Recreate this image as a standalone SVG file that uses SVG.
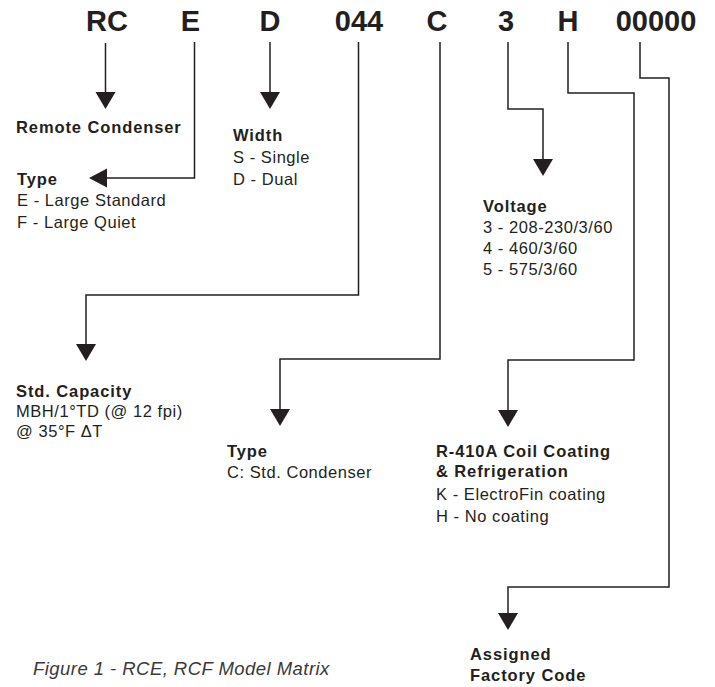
<svg xmlns="http://www.w3.org/2000/svg" width="715" height="687" viewBox="0 0 715 687">
<style>
.code{font-family:"Liberation Sans",Arial,sans-serif;font-weight:bold;font-size:29px;fill:#231f20;text-anchor:middle}
.h{font-family:"Liberation Sans",Arial,sans-serif;font-weight:bold;font-size:16.5px;fill:#231f20;letter-spacing:0.9px}
.t{font-family:"Liberation Sans",Arial,sans-serif;font-size:16.5px;fill:#231f20;letter-spacing:0.55px}
.cap{font-family:"Liberation Sans",Arial,sans-serif;font-style:italic;font-size:18.5px;fill:#3a3a3a;letter-spacing:0.45px}
.ln{fill:none;stroke:#231f20;stroke-width:1.5}
.ah{fill:#231f20}
</style>
<defs>
<polygon id="ad" points="-10,0 10,0 0,17"/>
</defs>
<g id="codes">
<text class="code" x="107" y="31">RC</text>
<text class="code" x="190.5" y="31">E</text>
<text class="code" x="270" y="31">D</text>
<text class="code" x="359" y="31">044</text>
<text class="code" x="437" y="31">C</text>
<text class="code" x="506" y="31">3</text>
<text class="code" x="568" y="31">H</text>
<text class="code" x="656" y="31">00000</text>
</g>
<g id="connectors">
<path class="ln" d="M105.5,43 V94"/>
<use href="#ad" class="ah" x="105.5" y="92"/>
<path class="ln" d="M194.5,42 V178 H104"/>
<polygon class="ah" points="89,178 107,168.5 107,187.5"/>
<path class="ln" d="M270,42 V94"/>
<use href="#ad" class="ah" x="270" y="92"/>
<path class="ln" d="M358.5,42 V295 H86 V346"/>
<use href="#ad" class="ah" x="86" y="344"/>
<path class="ln" d="M440,42 V359 H280 V411"/>
<use href="#ad" class="ah" x="280" y="409"/>
<path class="ln" d="M508,42 V109 H543 V161"/>
<use href="#ad" class="ah" x="543" y="159"/>
<path class="ln" d="M568,42 V93 H634 V360 H508 V412"/>
<use href="#ad" class="ah" x="508" y="410"/>
<path class="ln" d="M640,42 V78 H669 V587 H508 V615"/>
<use href="#ad" class="ah" x="508" y="613"/>
</g>
<g id="n-remote">
<text class="h" x="16" y="133">Remote Condenser</text>
</g>
<g id="n-type1">
<text class="h" x="17" y="185">Type</text>
<text class="t" x="17" y="206">E - Large Standard</text>
<text class="t" x="17" y="228">F - Large Quiet</text>
</g>
<g id="n-width">
<text class="h" x="233" y="141">Width</text>
<text class="t" x="233" y="163">S - Single</text>
<text class="t" x="233" y="185">D - Dual</text>
</g>
<g id="n-voltage">
<text class="h" x="483" y="212">Voltage</text>
<text class="t" x="483" y="233">3 - 208-230/3/60</text>
<text class="t" x="483" y="254">4 - 460/3/60</text>
<text class="t" x="483" y="275">5 - 575/3/60</text>
</g>
<g id="n-capacity">
<text class="h" x="16" y="397">Std. Capacity</text>
<text class="t" x="16" y="417">MBH/1°TD (@ 12 fpi)</text>
<text class="t" x="16" y="437">@ 35°F ΔT</text>
</g>
<g id="n-type2">
<text class="h" x="227" y="457">Type</text>
<text class="t" x="227" y="478">C: Std. Condenser</text>
</g>
<g id="n-coating">
<text class="h" x="436" y="457">R-410A Coil Coating</text>
<text class="h" x="436" y="477">&amp; Refrigeration</text>
<text class="t" x="436" y="500">K - ElectroFin coating</text>
<text class="t" x="436" y="522">H - No coating</text>
</g>
<g id="n-factory">
<text class="h" x="470" y="660">Assigned</text>
<text class="h" x="470" y="681">Factory Code</text>
</g>
<g id="caption">
<text class="cap" x="33" y="675">Figure 1 - RCE, RCF Model Matrix</text>
</g>
</svg>
